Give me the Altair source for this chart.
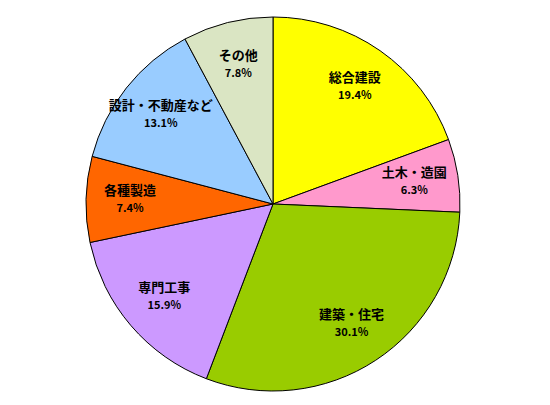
import altair as alt
import pandas as pd

categories = ["総合建設", "土木・造園", "建築・住宅", "専門工事", "各種製造", "設計・不動産など", "その他"]
values = [19.4, 6.3, 30.1, 15.9, 7.4, 13.1, 7.8]
colors = ["#FFFF00", "#FF99CC", "#99CC00", "#CC99FF", "#FF6600", "#99CCFF", "#DAE5C3"]

df = pd.DataFrame({
    "cat": categories,
    "val": values,
    "order": list(range(len(categories))),
    "pct": [f"{v:.1f}%" for v in values],
})

base = alt.Chart(df).encode(
    theta=alt.Theta("val:Q", stack=True),
    order=alt.Order("order:Q"),
)

arcs = base.mark_arc(radius=187, stroke="black", strokeWidth=1).encode(
    color=alt.Color("cat:N", scale=alt.Scale(domain=categories, range=colors), legend=None)
)

font = "Noto Sans CJK JP"
names = base.mark_text(radius=143, dy=-9, font=font, fontSize=13, fontWeight="bold", color="black").encode(
    text="cat:N"
)
pcts = base.mark_text(radius=143, dy=9, font=font, fontSize=11, fontWeight="bold", color="black").encode(
    text="pct:N"
)

chart = (arcs + names + pcts).properties(
    width=530, height=392, padding=0
).configure_view(stroke=None)

chart.save("out.html", embed_options={"renderer": "svg", "actions": False})
